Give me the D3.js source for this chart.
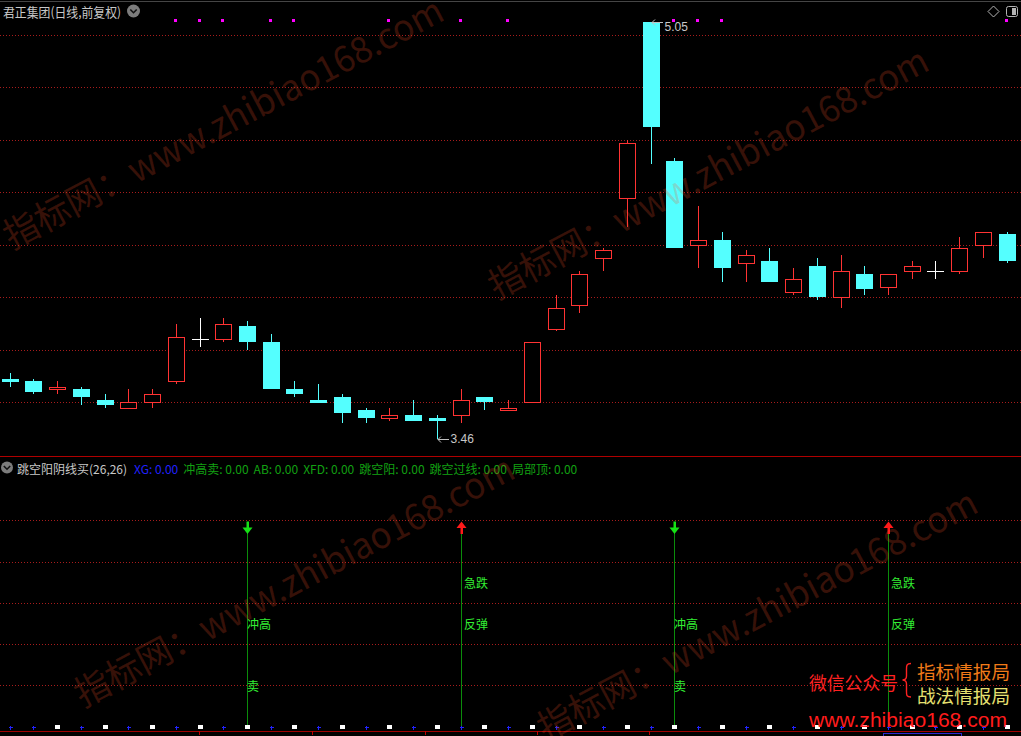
<!DOCTYPE html>
<html><head><meta charset="utf-8">
<script src="https://cdn.jsdelivr.net/npm/d3@7"></script>
<style>html,body{margin:0;padding:0;background:#000;overflow:hidden}svg{display:block}</style>
</head><body>
<svg id="c" width="1021" height="736"></svg>
<script>
// ---------------- data ----------------
const stockName = "君正集团(日线,前复权)";
const indicatorTitle = "跳空阳阴线买(26,26)";
const indicatorNames = ["XG", "冲高卖", "AB", "XFD", "跳空阳", "跳空过线", "局部顶"];
const indicatorValues = [0, 0, 0, 0, 0, 0, 0];

const open  = [3.69,3.68,3.65,3.65,3.61,3.58,3.60,3.68,3.84,3.84,3.89,3.83,3.65,3.61,3.62,3.57,3.54,3.55,3.54,3.55,3.62,3.57,3.60,3.88,3.97,4.15,4.38,5.05,4.52,4.20,4.22,4.13,4.14,4.02,4.12,4.00,4.09,4.04,4.10,4.10,4.10,4.20,4.24];
const high  = [3.71,3.69,3.68,3.66,3.63,3.65,3.65,3.90,3.92,3.92,3.91,3.86,3.68,3.67,3.63,3.58,3.58,3.61,3.55,3.65,3.62,3.61,3.83,4.01,4.10,4.19,4.60,5.05,4.53,4.35,4.25,4.18,4.19,4.11,4.15,4.16,4.12,4.09,4.14,4.14,4.23,4.25,4.25];
const low   = [3.66,3.63,3.63,3.59,3.58,3.58,3.58,3.67,3.81,3.83,3.80,3.65,3.62,3.60,3.52,3.52,3.53,3.53,3.46,3.52,3.57,3.57,3.60,3.87,3.94,4.10,4.27,4.51,4.19,4.11,4.06,4.06,4.06,4.01,3.99,3.96,4.01,4.01,4.07,4.07,4.09,4.15,4.13];
const close = [3.68,3.64,3.66,3.62,3.59,3.60,3.63,3.85,3.84,3.90,3.83,3.65,3.63,3.60,3.56,3.54,3.55,3.53,3.53,3.61,3.60,3.58,3.83,3.96,4.09,4.18,4.59,4.65,4.19,4.22,4.11,4.16,4.06,4.07,4.00,4.10,4.03,4.09,4.12,4.10,4.19,4.25,4.14];

const priceTicks = [3.6, 3.8, 4.0, 4.2, 4.4, 4.6, 4.8, 5.0];
const signalTicks = [1, 2, 3, 4, 5];
const magentaDays = [7, 8, 9, 11, 12, 16, 19, 21, 28, 29, 30, 42];
const sellDays = [10, 28];
const buyDays = [19, 37];
const sellLabels = [["冲高", 2.5], ["卖", 1.0]];
const buyLabels = [["急跌", 3.5], ["反弹", 2.5]];
const dotKinds = "BBWBWBWBWBWBWBWBWBWBWBWBWBWBWBWBWBWBWBWBWBW";
const axisTickDays = [7.96, 12.72, 17.48, 22.2, 26.95];
const watermarkText = "指标网：www.zhibiao168.com";
const legendLeft = "微信公众号";
const legendTop = "指标情报局";
const legendBottom = "战法情报局";
const legendUrl = "www.zhibiao168.com";

// ---------------- setup ----------------
const W = 1021, H = 736;
const CJK = "'Noto Sans CJK SC','Noto Sans',sans-serif";
const LAT = "'Liberation Sans',Arial,sans-serif";
const RED = "#ff3333", CYAN = "#54ffff", WHITE = "#ffffff";
const svg = d3.select("#c");
svg.append("rect").attr("width", W).attr("height", H).attr("fill", "#000");

const x = d3.scalePoint().domain(d3.range(open.length)).range([9.6, 9.6 + 42 * 23.74]);
const cxOf = i => Math.round(x(i));
const y = d3.scaleLinear().domain([3.6, 5.0]).range([402.3, 35]);
const ys = d3.scaleLinear().domain([0, 5]).range([726.5, 520.3]);

// borders
svg.append("line").attr("x1", 0).attr("x2", W).attr("y1", 1.5).attr("y2", 1.5).attr("stroke", "#454545");
svg.append("line").attr("x1", 0).attr("x2", W).attr("y1", 456.5).attr("y2", 456.5).attr("stroke", "#b00000");
svg.append("line").attr("x1", 0).attr("x2", W).attr("y1", 731.5).attr("y2", 731.5).attr("stroke", "#a00000");

// gridlines
const grid = svg.append("g").attr("shape-rendering", "crispEdges");
grid.selectAll("line.p").data(priceTicks).join("line")
  .attr("x1", 0).attr("x2", W)
  .attr("y1", d => Math.round(y(d)) + 0.5).attr("y2", d => Math.round(y(d)) + 0.5)
  .attr("stroke", "#a81c1c").attr("stroke-dasharray", "1,2");
grid.selectAll("line.s").data(signalTicks).join("line")
  .attr("x1", 0).attr("x2", W)
  .attr("y1", d => Math.round(ys(d)) + 0.5).attr("y2", d => Math.round(ys(d)) + 0.5)
  .attr("stroke", "#a81c1c").attr("stroke-dasharray", "1,2");

// candles
const g = svg.append("g").attr("shape-rendering", "crispEdges");
open.forEach((o, i) => {
  const c = close[i], h = high[i], l = low[i];
  const cx = cxOf(i);
  const yo = y(o), yc = y(c), yh = y(h), yl = y(l);
  if (c > o) {
    if (yc - yh > 0.5) g.append("line").attr("x1", cx + 0.5).attr("x2", cx + 0.5).attr("y1", yh).attr("y2", yc).attr("stroke", RED);
    if (yl - yo > 0.5) g.append("line").attr("x1", cx + 0.5).attr("x2", cx + 0.5).attr("y1", yo).attr("y2", yl).attr("stroke", RED);
    g.append("rect").attr("x", cx - 7.5).attr("y", Math.round(yc) + 0.5).attr("width", 16)
      .attr("height", Math.max(2, Math.round(yo) - Math.round(yc)))
      .attr("fill", "#000").attr("stroke", RED);
  } else if (c < o) {
    g.append("line").attr("x1", cx + 0.5).attr("x2", cx + 0.5).attr("y1", yh).attr("y2", yl).attr("stroke", CYAN);
    g.append("rect").attr("x", cx - 8).attr("y", Math.round(yo)).attr("width", 17)
      .attr("height", Math.max(3, Math.round(yc) - Math.round(yo))).attr("fill", CYAN);
  } else {
    g.append("line").attr("x1", cx + 0.5).attr("x2", cx + 0.5).attr("y1", yh).attr("y2", yl).attr("stroke", WHITE);
    g.append("line").attr("x1", cx - 8).attr("x2", cx + 9).attr("y1", Math.round(yo) + 0.5).attr("y2", Math.round(yo) + 0.5).attr("stroke", WHITE);
  }
});

// high / low labels
const hi = d3.maxIndex(high), lo = d3.minIndex(low);
function arrowLabel(i, val, yOff) {
  const cx = cxOf(i), yy = Math.round(y(val)) + 0.5;
  const a = svg.append("g").attr("stroke", "#c0c0c0").attr("fill", "none");
  a.append("path").attr("d", `M${cx + 4},${yy - 3} L${cx + 1},${yy} L${cx + 4},${yy + 3} M${cx + 1},${yy} L${cx + 12},${yy}`);
  svg.append("text").attr("x", cx + 13.5).attr("y", y(val) + yOff).attr("dominant-baseline", "central")
    .attr("font-family", LAT).attr("font-size", 12).attr("fill", "#c8c8c8").text(d3.format(".2f")(val));
}
arrowLabel(hi, high[hi], 5);
arrowLabel(lo, low[lo], 0);

// magenta markers
svg.selectAll("rect.m").data(magentaDays).join("rect")
  .attr("x", d => cxOf(d) - 2).attr("y", 19).attr("width", 3).attr("height", 3).attr("fill", "#ff00ff");

// signals
const sg = svg.append("g");
function signal(i, isBuy) {
  const cx = cxOf(i);
  sg.append("line").attr("x1", cx + 0.5).attr("x2", cx + 0.5).attr("y1", 533).attr("y2", ys(0))
    .attr("stroke", "#0b8c0b").attr("shape-rendering", "crispEdges");
  if (isBuy) {
    sg.append("path").attr("d", `M${cx + 0.5},521.5 L${cx + 5.5},528 L${cx - 4.5},528 Z`).attr("fill", "#ff1a1a");
    sg.append("rect").attr("x", cx - 0.5).attr("y", 527.5).attr("width", 2.5).attr("height", 6.5).attr("fill", "#ff1a1a");
  } else {
    sg.append("rect").attr("x", cx - 0.5).attr("y", 521.5).attr("width", 2.5).attr("height", 6.5).attr("fill", "#16e016");
    sg.append("path").attr("d", `M${cx - 4.5},527.5 L${cx + 5.5},527.5 L${cx + 0.5},534 Z`).attr("fill", "#16e016");
  }
  const labels = isBuy ? buyLabels : sellLabels;
  labels.forEach(([t, v]) => {
    sg.append("text").attr("x", cx + (isBuy ? 3 : 0)).attr("y", ys(v)).attr("dominant-baseline", "central")
      .attr("font-family", CJK).attr("font-size", 12).attr("fill", "#33ee33").text(t);
  });
}
sellDays.forEach(d => signal(d, false));
buyDays.forEach(d => signal(d, true));

// bottom dot row
const dg = svg.append("g").attr("shape-rendering", "crispEdges");
dotKinds.split("").forEach((k, i) => {
  const cx = cxOf(i), yy = Math.round(ys(0));
  if (k === "W") {
    dg.append("rect").attr("x", cx - 2).attr("y", yy - 2).attr("width", 5).attr("height", 4).attr("fill", "#ffffff");
  } else {
    dg.append("line").attr("x1", cx - 1.5).attr("x2", cx + 2.5).attr("y1", yy + 0.5).attr("y2", yy + 0.5).attr("stroke", "#2222ff");
    dg.append("line").attr("x1", cx + 0.5).attr("x2", cx + 0.5).attr("y1", yy - 1.5).attr("y2", yy + 2.5).attr("stroke", "#2222ff");
  }
});

// axis ticks
svg.selectAll("line.at").data(axisTickDays).join("line")
  .attr("x1", d => Math.round(x(0) + d * 23.74) + 0.5).attr("x2", d => Math.round(x(0) + d * 23.74) + 0.5)
  .attr("y1", 731).attr("y2", 735).attr("stroke", "#c00000");
// cursor date box (cut at the bottom edge)
svg.append("rect").attr("x", 883.5).attr("y", 733.5).attr("width", 78).attr("height", 14).attr("fill", "#000").attr("stroke", "#2a2ad0");

// headers
svg.append("text").attr("x", 3).attr("y", 11).attr("dominant-baseline", "central")
  .attr("font-family", CJK).attr("font-size", 13).attr("fill", "#c8c8c8")
  .attr("textLength", 118).attr("lengthAdjust", "spacingAndGlyphs").text(stockName);
function chevronCircle(cx, cy, r) {
  svg.append("circle").attr("cx", cx).attr("cy", cy).attr("r", r).attr("fill", "#7c7c7c");
  svg.append("path").attr("d", `M${cx - 3.2},${cy - 1.5} L${cx},${cy + 1.7} L${cx + 3.2},${cy - 1.5}`)
    .attr("stroke", "#111").attr("stroke-width", 1.6).attr("fill", "none");
}
chevronCircle(133.5, 11, 6.5);
chevronCircle(7, 467.5, 6);
// top right icons
svg.append("path").attr("d", "M993.5,6 L999,11.5 L993.5,17 L988,11.5 Z").attr("fill", "none").attr("stroke", "#b4b4b4");
svg.append("rect").attr("x", 1006.5).attr("y", 6.5).attr("width", 11).attr("height", 10).attr("rx", 2).attr("fill", "none").attr("stroke", "#b4b4b4");
svg.append("rect").attr("x", 1012).attr("y", 8).attr("width", 4).attr("height", 7).attr("fill", "#b4b4b4");

// indicator header
const ih = svg.append("g").attr("font-size", 12);
ih.append("text").attr("x", 17).attr("y", 468).attr("dominant-baseline", "central")
  .attr("font-family", CJK).attr("fill", "#c8c8c8").text(indicatorTitle);
let cursor = 134;
indicatorNames.forEach((n, i) => {
  const t = ih.append("text").attr("x", cursor).attr("y", 468).attr("dominant-baseline", "central")
    .attr("font-family", CJK).attr("fill", i === 0 ? "#2020ff" : "#12a012")
    .text(`${n}: ${d3.format(".2f")(indicatorValues[i])}`);
  cursor += t.node().getComputedTextLength() + 5;
});

// legend bottom right
svg.append("text").attr("x", 809).attr("y", 682).attr("dominant-baseline", "central")
  .attr("font-family", CJK).attr("font-size", 18).attr("fill", "#ff2222")
  .attr("textLength", 89).attr("lengthAdjust", "spacingAndGlyphs").text(legendLeft);
svg.append("path").attr("d", "M911,663.5 C906,663.5 906.5,666 906.5,671 L906.5,676 C906.5,679.5 905,680 902.5,680 C905,680 906.5,680.5 906.5,684 L906.5,690 C906.5,695 906,697 911,697")
  .attr("fill", "none").attr("stroke", "#ff2222").attr("stroke-width", 1.4);
svg.append("text").attr("x", 917).attr("y", 671).attr("dominant-baseline", "central")
  .attr("font-family", CJK).attr("font-size", 18).attr("fill", "#f07a18")
  .attr("textLength", 93).attr("lengthAdjust", "spacingAndGlyphs").text(legendTop);
svg.append("text").attr("x", 917).attr("y", 695).attr("dominant-baseline", "central")
  .attr("font-family", CJK).attr("font-size", 18).attr("fill", "#e6e070")
  .attr("textLength", 93).attr("lengthAdjust", "spacingAndGlyphs").text(legendBottom);
svg.append("text").attr("x", 809).attr("y", 720).attr("dominant-baseline", "central")
  .attr("font-family", LAT).attr("font-size", 20).attr("fill", "#ff1c1c")
  .attr("textLength", 198).attr("lengthAdjust", "spacingAndGlyphs").text(legendUrl);

// watermarks
const wmPos = [[12, 250], [497, 300], [83, 708], [546, 742]];
svg.selectAll("text.wm").data(wmPos).join("text")
  .attr("transform", d => `translate(${d[0]},${d[1]}) rotate(-28)`)
  .attr("font-family", CJK).attr("font-size", 36).attr("fill", "#ff5028").attr("fill-opacity", 0.22)
  .attr("textLength", 492).attr("lengthAdjust", "spacingAndGlyphs").text(watermarkText);
</script>
</body></html>
